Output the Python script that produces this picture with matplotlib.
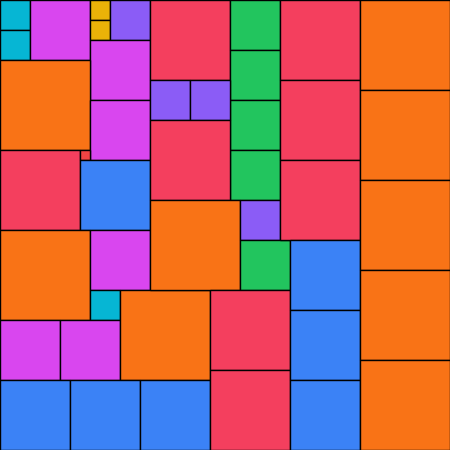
import matplotlib
matplotlib.use("Agg")
import matplotlib.pyplot as plt
from matplotlib.patches import Rectangle

# square packing: left, top, side length
xs = [0, 0, 30, 90, 90, 110, 90, 0, 90, 0, 80, 80, 0, 90, 90, 0, 60, 120, 0, 70, 140,
      150, 230, 230, 230, 230, 150, 190, 150, 150, 240, 240, 210, 210,
      280, 280, 280, 290, 290, 290, 360, 360, 360, 360, 360]
ys = [0, 30, 0, 0, 20, 0, 40, 60, 100, 150, 150, 160, 230, 230, 290, 320, 320, 290, 380, 380, 380,
      0, 0, 50, 100, 150, 80, 80, 120, 200, 200, 240, 290, 370,
      0, 80, 160, 240, 310, 380, 0, 90, 180, 270, 360]
sizes = [30, 30, 60, 20, 20, 40, 60, 90, 60, 80, 10, 70, 90, 60, 30, 60, 60, 90, 70, 70, 70,
         80, 50, 50, 50, 50, 40, 40, 80, 90, 40, 50, 80, 80,
         80, 80, 80, 70, 70, 70, 90, 90, 90, 90, 90]

palette = {10: "#ef4444", 20: "#eab308", 30: "#06b6d4", 40: "#8b5cf6", 50: "#22c55e",
           60: "#d946ef", 70: "#3b82f6", 80: "#f43f5e", 90: "#f97316"}

fig = plt.figure(figsize=(4.5, 4.5), dpi=100)
ax = fig.add_axes([0, 0, 1, 1])
ax.set_xlim(0, 450)
ax.set_ylim(450, 0)
ax.axis("off")

for x, y, s in zip(xs, ys, sizes):
    ax.add_patch(Rectangle((x, y), s, s, facecolor=palette[s], edgecolor="black", linewidth=1.0))

fig.savefig("out.png", dpi=100)
